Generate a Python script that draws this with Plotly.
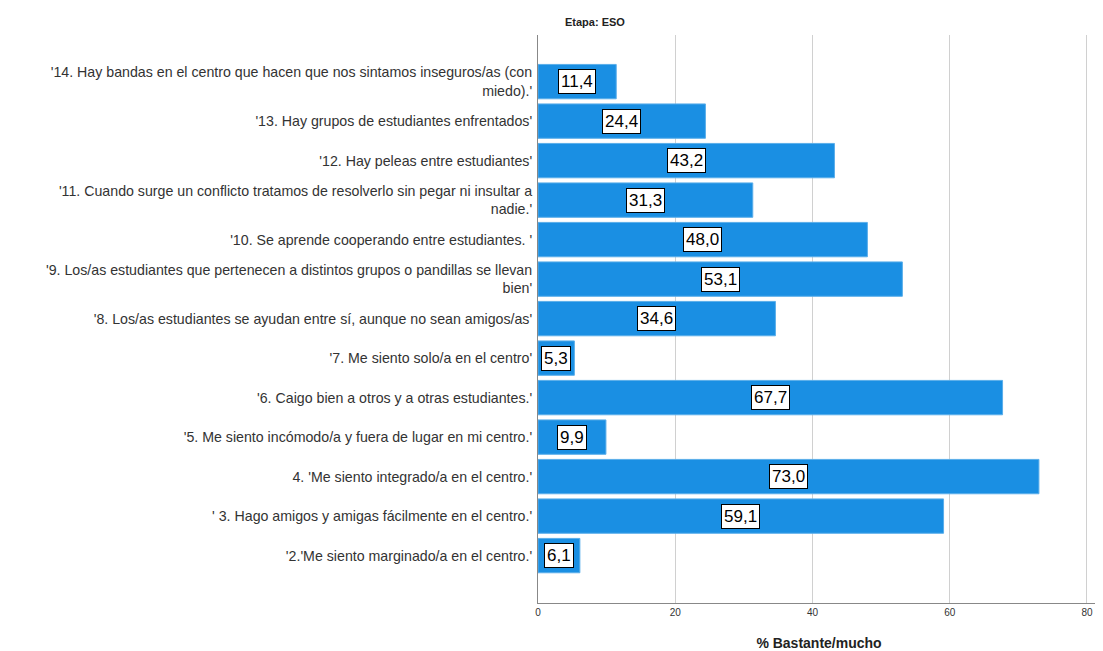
import plotly.graph_objects as go

# Items (bottom to top) and % Bastante/mucho
items = [
    "'2.'Me siento marginado/a en el centro.'",
    "' 3. Hago amigos y amigas fácilmente en el centro.'",
    "4. 'Me siento integrado/a en el centro.'",
    "'5. Me siento incómodo/a y fuera de lugar en mi centro.'",
    "'6. Caigo bien a otros y a otras estudiantes.'",
    "'7. Me siento solo/a en el centro'",
    "'8. Los/as estudiantes se ayudan entre sí, aunque no sean amigos/as'",
    "'9. Los/as estudiantes que pertenecen a distintos grupos o pandillas se llevan<br>bien'",
    "'10. Se aprende cooperando entre estudiantes. '",
    "'11. Cuando surge un conflicto tratamos de resolverlo sin pegar ni insultar a<br>nadie.'",
    "'12. Hay peleas entre estudiantes'",
    "'13. Hay grupos de estudiantes enfrentados'",
    "'14. Hay bandas en el centro que hacen que nos sintamos inseguros/as (con<br>miedo).'",
]
valores = [6.1, 59.1, 73.0, 9.9, 67.7, 5.3, 34.6, 53.1, 48.0, 31.3, 43.2, 24.4, 11.4]
ticks_x = [0, 20, 40, 60, 80]

pos = list(range(len(items)))

fig = go.Figure()
fig.add_bar(
    x=valores, y=pos, orientation="h",
    marker=dict(color="#1a8fe3", line=dict(color="#5aaeea", width=1)),
    width=0.87, hoverinfo="x+y",
)

# etiquetas con caja blanca centradas en cada barra
for p, v in zip(pos, valores):
    fig.add_annotation(
        x=v / 2, y=p, text=f"{v:.1f}".replace(".", ","), showarrow=False,
        font=dict(family="Arial", size=17, color="black"),
        bgcolor="white", bordercolor="black", borderwidth=1, borderpad=2,
    )

# titulo del panel
fig.add_annotation(
    xref="x domain", yref="y domain", x=(563 - 538) / 562, y=1 + (35 - 22) / 568,
    yanchor="middle", text="<b>Etapa: ESO</b>", showarrow=False,
    font=dict(family="Arial", size=11, color="#222"),
)

# la pagina deja 8px de margen en body, por eso 1095x643
fig.update_layout(
    width=1095, height=643,
    margin=dict(l=530, r=3, t=27, b=48),
    plot_bgcolor="white", paper_bgcolor="white",
    showlegend=False,
    font=dict(family="Arial", color="#333"),
    xaxis=dict(
        range=[0, 81.9], tickvals=ticks_x, showgrid=True, gridcolor="#d0d0d0", gridwidth=1,
        showline=True, linecolor="#888", linewidth=1, zeroline=False, automargin=False,
        tickfont=dict(size=10, color="#333"), ticks="",
        title=dict(text="<b>% Bastante/mucho</b>", font=dict(size=14, color="#222"), standoff=21),
    ),
    yaxis=dict(
        range=[-1.2, 13.18], tickvals=pos, ticktext=items, showgrid=False,
        showline=True, linecolor="#888", linewidth=1, zeroline=False, automargin=False,
        tickfont=dict(size=14.2, color="#333"), ticks="", ticklabelstandoff=2,
    ),
)

fig.write_html("out.html")
